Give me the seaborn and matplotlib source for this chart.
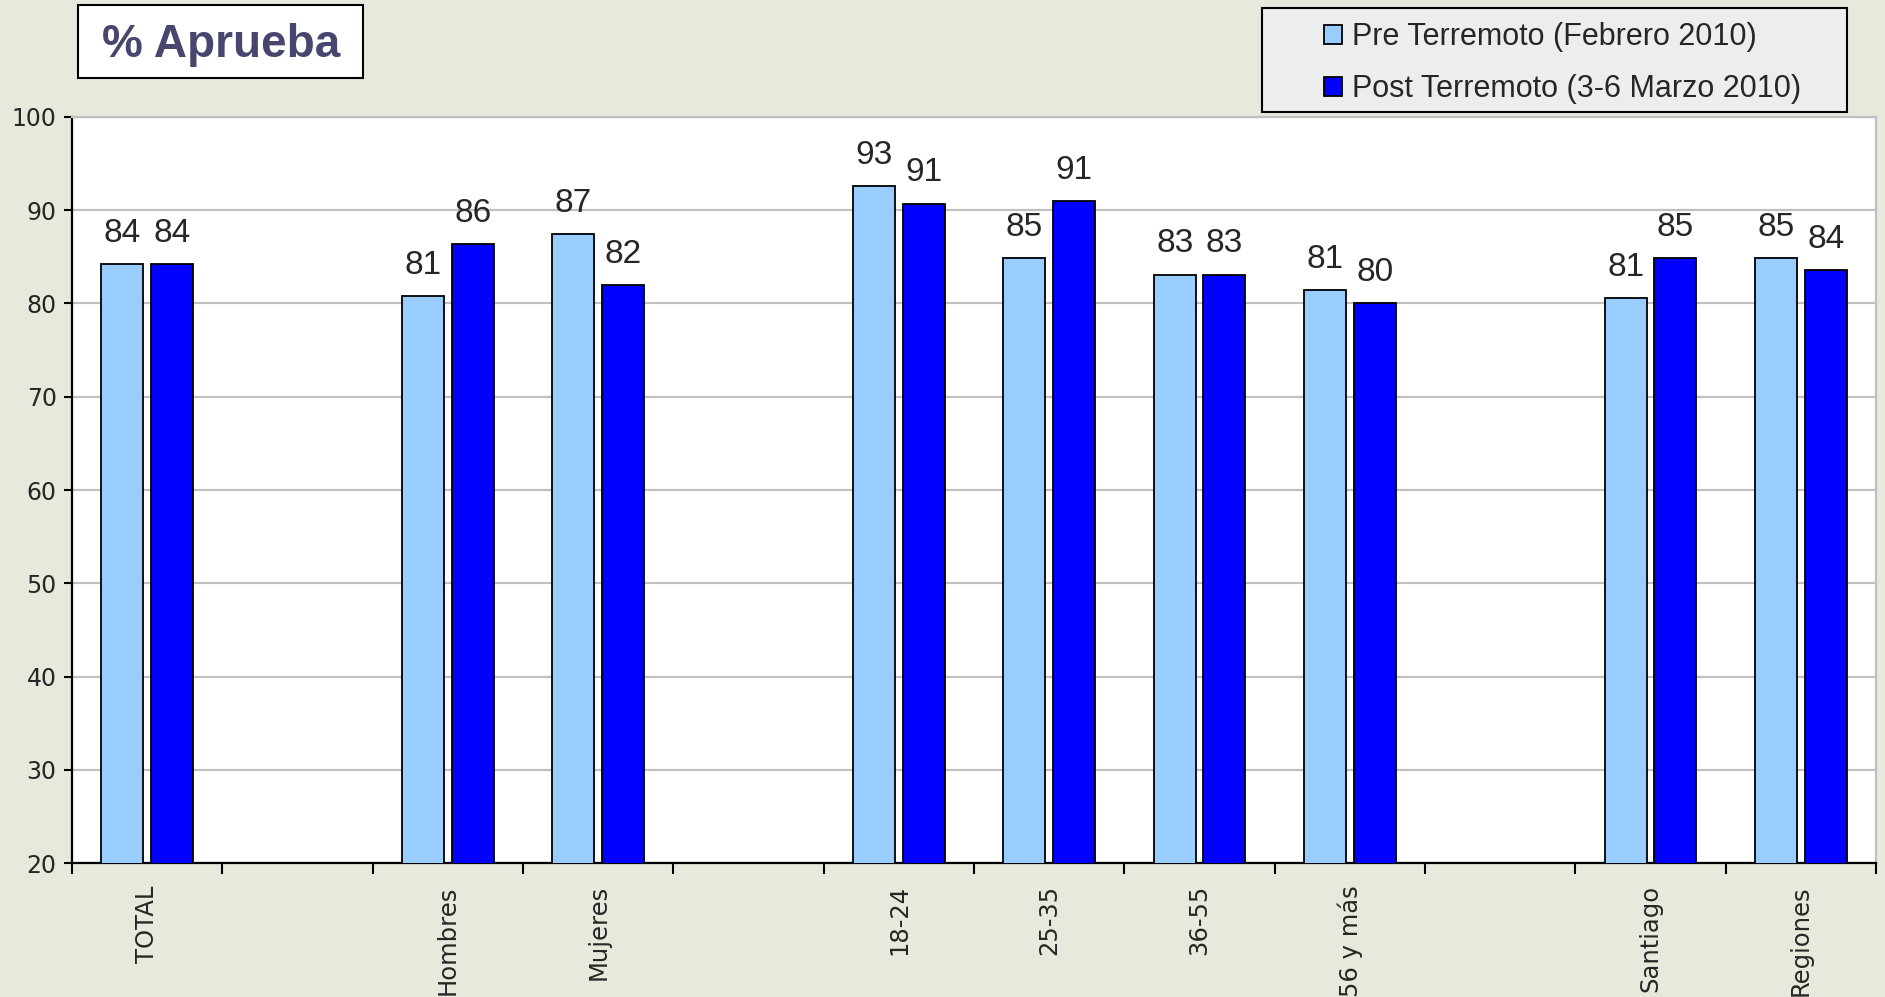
import pandas as pd
import numpy as np
import matplotlib
matplotlib.use("Agg")
import matplotlib.pyplot as plt
import seaborn as sns
from matplotlib.patches import Rectangle

# slots on the x axis (blank ones keep the gaps between blocks)
categories = ['TOTAL', ' ', 'Hombres', 'Mujeres', '  ', '18-24', '25-35', '36-55',
              '56 y más', '   ', 'Santiago', 'Regiones']
groups = ['TOTAL', 'Hombres', 'Mujeres', '18-24', '25-35', '36-55', '56 y más',
          'Santiago', 'Regiones']
pre = [84.2, 80.8, 87.4, 92.6, 84.9, 83.1, 81.4, 80.6, 84.9]
post = [84.2, 86.4, 82.0, 90.7, 91.0, 83.1, 80.0, 84.9, 83.6]
series = ['Pre Terremoto (Febrero 2010)', 'Post Terremoto (3-6 Marzo 2010)']
y_ticks = [20, 30, 40, 50, 60, 70, 80, 90, 100]

df = pd.DataFrame({
    'grupo': groups * 2,
    'serie': [series[0]] * len(pre) + [series[1]] * len(post),
    'valor': pre + post,
})

sns.set_style("white")
plt.rcParams['font.family'] = ['DejaVu Sans']
narrow = ['Liberation Sans', 'DejaVu Sans']

W, H = 1885, 997
fig = plt.figure(figsize=(W / 100, H / 100), dpi=100, facecolor='#E8E8DD')
ax = fig.add_axes([72 / W, 1 - 863 / H, (1876 - 72) / W, (863 - 117) / H])
ax.set_facecolor('white')

sns.barplot(data=df, x='grupo', y='valor', hue='serie', order=categories,
            hue_order=series, palette=['#99CCFF', '#0000FF'], saturation=1,
            width=0.66, gap=0.15, edgecolor='black', linewidth=1.3,
            errorbar=None, ax=ax, zorder=3)

for cont in ax.containers:
    ax.bar_label(cont, fmt='%.0f', padding=11, fontsize=24, family=narrow)

ax.set_ylim(20, 100)
ax.set_yticks(y_ticks)
ax.tick_params(axis='y', labelsize=17, length=6, width=1.5, color='black',
               left=True, pad=5)
ax.yaxis.grid(True, color='#C0C0C0', linewidth=1.6, zorder=0)
ax.set_axisbelow(True)

ax.set_xlim(-0.5, len(categories) - 0.5)
ax.set_xticks(range(len(categories)))
ax.set_xticklabels(categories, rotation=90, fontsize=17.5, va='top')
ax.set_xticks(np.arange(-0.5, len(categories), 1), minor=True)
ax.tick_params(axis='x', which='major', length=0, pad=16)
ax.tick_params(axis='x', which='minor', length=8, width=1.5, color='black',
               bottom=True)
ax.set_xlabel('')
ax.set_ylabel('')

for s in ['left', 'bottom']:
    ax.spines[s].set_color('black')
    ax.spines[s].set_linewidth(1.6)
for s in ['top', 'right']:
    ax.spines[s].set_color('#C0C0C0')
    ax.spines[s].set_linewidth(1.6)

# title box
fig.patches.append(Rectangle((78 / W, 1 - 78 / H), (363 - 78) / W, (78 - 5) / H,
                             transform=fig.transFigure, facecolor='white',
                             edgecolor='black', linewidth=1.5))
fig.text(221 / W, 1 - 45 / H, '% Aprueba', ha='center', va='center',
         fontsize=33, fontweight='bold', color='#46466E',
         family=['Liberation Sans', 'DejaVu Sans'])

# legend box
handles, labels = ax.get_legend_handles_labels()
ax.legend_.remove()
fig.patches.append(Rectangle((1262 / W, 1 - 112 / H), (1847 - 1262) / W, (112 - 8) / H,
                             transform=fig.transFigure, facecolor='#ECEEEE',
                             edgecolor='black', linewidth=1.5))
fig.legend(handles, labels, loc='upper left', bbox_to_anchor=(1318 / W, 1 - 16 / H),
           frameon=False, prop={'family': narrow, 'size': 22},
           handlelength=0.6, handleheight=0.6, handletextpad=0.3,
           labelspacing=0.72, borderpad=0.2, borderaxespad=0)

fig.savefig('out.png', dpi=100, facecolor=fig.get_facecolor())
